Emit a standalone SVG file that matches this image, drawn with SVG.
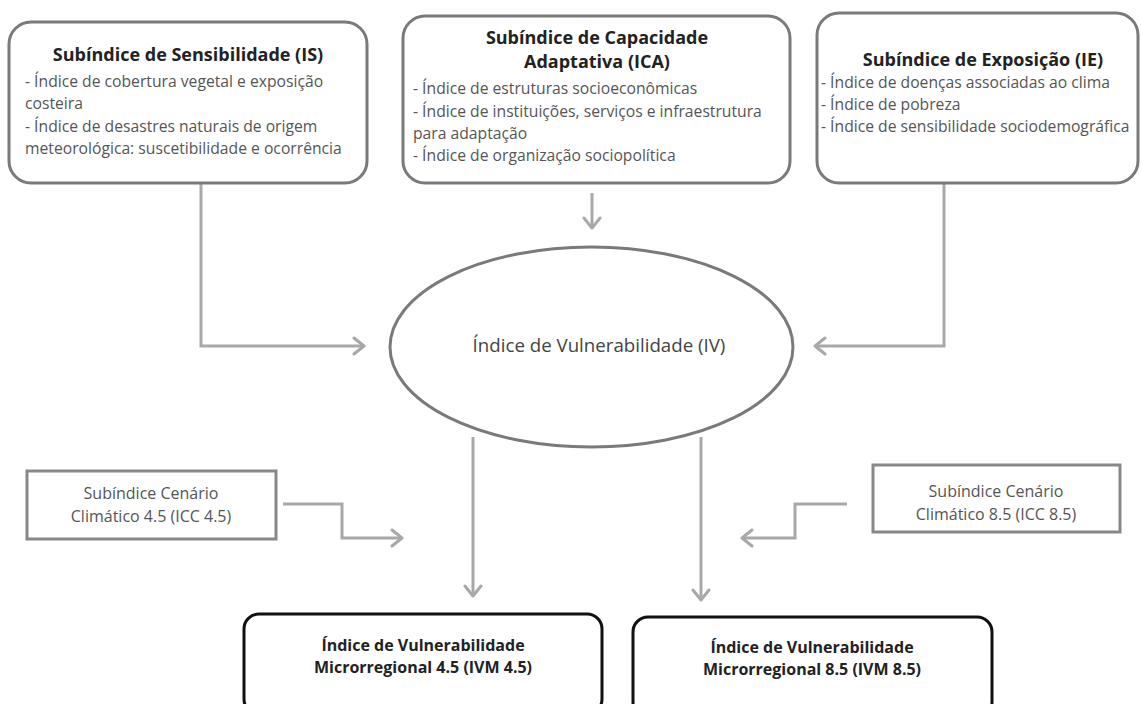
<svg xmlns="http://www.w3.org/2000/svg" width="1141" height="704" viewBox="0 0 1141 704">
<defs>
<marker id="arr" markerUnits="userSpaceOnUse" markerWidth="20" markerHeight="20" viewBox="0 0 20 20" refX="14" refY="10" orient="auto">
<path d="M4,2 L14,10 L4,18" fill="none" stroke="#a8a8a8" stroke-width="3" stroke-linecap="round" stroke-linejoin="round"/>
</marker>
<style>
.box{fill:#fff;stroke:#7a7a7a;stroke-width:3}
.sq{fill:#fff;stroke:#888;stroke-width:3}
.out{fill:#fff;stroke:#111;stroke-width:3}
.ttl{font-family:"Open Sans",Lato,sans-serif;font-weight:bold;font-size:18px;fill:#222;text-anchor:middle}
.itm{font-family:"Open Sans",Lato,sans-serif;font-size:15.7px;fill:#555}
.mid{font-family:"Open Sans",Lato,sans-serif;font-size:18.7px;fill:#444;text-anchor:middle}
.scn{font-family:"Open Sans",Lato,sans-serif;font-size:16px;fill:#555;text-anchor:middle}
.ivm{font-family:"Open Sans",Lato,sans-serif;font-weight:bold;font-size:16px;fill:#222;text-anchor:middle}
.con{fill:none;stroke:#a8a8a8;stroke-width:3;marker-end:url(#arr)}
</style>
</defs>
<rect width="1141" height="704" fill="#fff"/>
<g id="connectors">
<polyline class="con" points="201,184 201,346 364,346"/>
<polyline class="con" points="592,193 592,228"/>
<polyline class="con" points="944,184 944,346 815,346"/>
<polyline class="con" points="473,437 473,596"/>
<polyline class="con" points="701,437 701,600"/>
<polyline class="con" points="283,504 342,504 342,538 402,538"/>
<polyline class="con" points="847,504 795,504 795,538 742,538"/>
</g>
<g id="IS">
<rect class="box" x="9" y="22" width="358" height="161" rx="22"/>
<text class="ttl" x="188" y="61">Subíndice de Sensibilidade (IS)</text>
<text class="itm" x="25" y="87">- Índice de cobertura vegetal e exposição</text>
<text class="itm" x="25" y="109">costeira</text>
<text class="itm" x="25" y="132">- Índice de desastres naturais de origem</text>
<text class="itm" x="25" y="154">meteorológica: suscetibilidade e ocorrência</text>
</g>
<g id="ICA">
<rect class="box" x="403" y="16" width="387" height="167" rx="22"/>
<text class="ttl" x="597" y="44">Subíndice de Capacidade</text>
<text class="ttl" x="597" y="68">Adaptativa (ICA)</text>
<text class="itm" x="413" y="94">- Índice de estruturas socioeconômicas</text>
<text class="itm" x="413" y="117">- Índice de instituições, serviços e infraestrutura</text>
<text class="itm" x="413" y="139">para adaptação</text>
<text class="itm" x="413" y="161">- Índice de organização sociopolítica</text>
</g>
<g id="IE">
<rect class="box" x="817" y="13" width="321" height="170" rx="22"/>
<text class="ttl" x="983" y="66">Subíndice de Exposição (IE)</text>
<text class="itm" x="821" y="88">- Índice de doenças associadas ao clima</text>
<text class="itm" x="821" y="110">- Índice de pobreza</text>
<text class="itm" x="821" y="132">- Índice de sensibilidade sociodemográfica</text>
</g>
<g id="IV">
<ellipse cx="591.5" cy="347" rx="201.5" ry="100" fill="#fff" stroke="#7a7a7a" stroke-width="3"/>
<text class="mid" x="599" y="352">Índice de Vulnerabilidade (IV)</text>
</g>
<g id="ICC45">
<rect class="sq" x="27" y="471" width="249" height="68"/>
<text class="scn" x="151" y="499">Subíndice Cenário</text>
<text class="scn" x="151" y="522">Climático 4.5 (ICC 4.5)</text>
</g>
<g id="ICC85">
<rect class="sq" x="873" y="465" width="247" height="67"/>
<text class="scn" x="996" y="497">Subíndice Cenário</text>
<text class="scn" x="996" y="520">Climático 8.5 (ICC 8.5)</text>
</g>
<g id="IVM45">
<rect class="out" x="244" y="614" width="358" height="100" rx="15"/>
<text class="ivm" x="423" y="651">Índice de Vulnerabilidade</text>
<text class="ivm" x="423" y="673">Microrregional 4.5 (IVM 4.5)</text>
</g>
<g id="IVM85">
<rect class="out" x="633" y="617" width="359" height="100" rx="15"/>
<text class="ivm" x="812" y="653">Índice de Vulnerabilidade</text>
<text class="ivm" x="812" y="675">Microrregional 8.5 (IVM 8.5)</text>
</g>
</svg>
